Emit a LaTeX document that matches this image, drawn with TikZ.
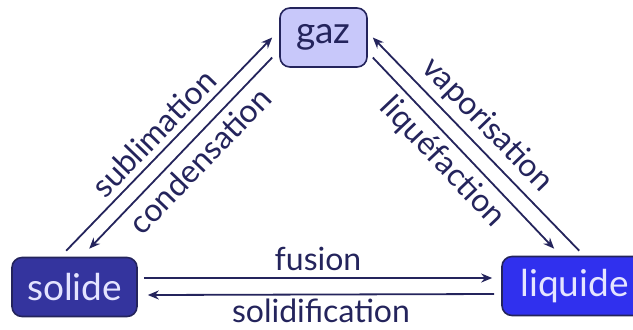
\documentclass[tikz,border=0pt]{standalone}
\usepackage{fontspec}
\setmainfont{Lato}
\usepackage{xcolor}
\usetikzlibrary{shapes}
\usetikzlibrary{arrows.meta}
\definecolor{navy}{HTML}{24245C}
\definecolor{gasfill}{HTML}{C8C8FA}
\definecolor{solidfill}{HTML}{34349E}
\definecolor{liquidfill}{HTML}{3030EE}
\definecolor{paletext}{HTML}{E4E4FF}

\begin{document}
\begin{tikzpicture}[x=0.5pt,y=-0.5pt]
        \tikzstyle{state}=[rectangle,rounded corners=5pt,draw=navy,line width=0.8pt,minimum height=29.5pt,inner sep=0pt,font=\fontsize{18.5}{20}\selectfont]
        \tikzstyle{change}=[draw=navy,line width=0.9pt,-{Stealth[length=5.5pt,width=4.5pt]}]
        \tikzstyle{label}=[text=navy,inner sep=3pt,font=\fontsize{16}{18}\selectfont]
        \useasboundingbox (0,0) rectangle (633,329);
       \begin{scope}
         \node [state,fill=gasfill,text=navy,minimum width=43.5pt] (gaz) at (323.5,37.5) {gaz};
         \node [state,fill=solidfill,text=paletext,minimum width=62.5pt] (solide) at (74.5,287) {solide};
         \node [state,fill=liquidfill,text=paletext,minimum width=72.5pt] (liquide) at (574.5,286) {liquide};
         \path[change] ([shift={(55,-6)}]solide.north west) -- node[label,sloped,above,pos=0.49] {sublimation} ([shift={(-7,0)}]gaz.west);
         \path[change] ([shift={(-7,20)}]gaz.west) -- node[label,sloped,below,pos=0.47] {condensation} ([shift={(78,-8)}]solide.north west);
         \path[change] ([shift={(78,-5)}]liquide.north west) -- node[label,sloped,above,pos=0.52] {vaporisation} ([shift={(5,0)}]gaz.east);
         \path[change] ([shift={(5,20)}]gaz.east) -- node[label,sloped,below,pos=0.47] {liquéfaction} ([shift={(53,-7)}]liquide.north west);
         \path[change] ([shift={(6,-9)}]solide.east) -- node[label,above] {fusion} ([shift={(-9,-8)}]liquide.west);
         \path[change] ([shift={(-7,8)}]liquide.west) -- node[label,below,inner sep=2pt] {solidification} ([shift={(10,8)}]solide.east);
        \end{scope}
      \end{tikzpicture}
\end{document}
